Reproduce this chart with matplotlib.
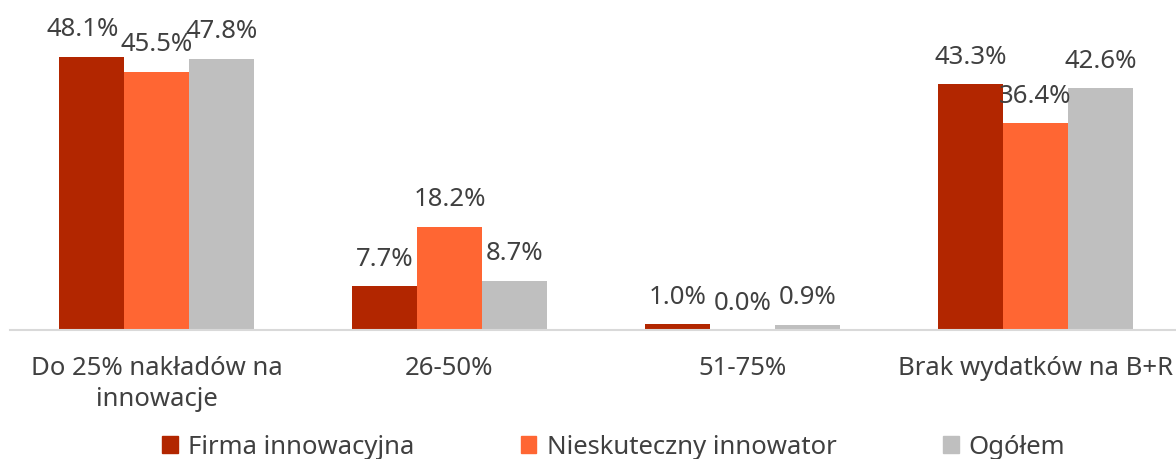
import matplotlib
matplotlib.use("Agg")
import matplotlib.pyplot as plt
import numpy as np
from matplotlib.patches import Patch

categories = ["Do 25% nakładów na\ninnowacje", "26-50%", "51-75%", "Brak wydatków na B+R"]
series_names = ["Firma innowacyjna", "Nieskuteczny innowator", "Ogółem"]
firma = [48.1, 7.7, 1.0, 43.3]
nieskuteczny = [45.5, 18.2, 0.0, 36.4]
ogolem = [47.8, 8.7, 0.9, 42.6]
colors = ["#B22600", "#FF6633", "#BFBFBF"]
text_color = "#404040"

plt.rcParams['font.family'] = ['Noto Sans', 'DejaVu Sans']

W, H = 1176, 459
fs = 18.5
fig = plt.figure(figsize=(W/100, H/100), dpi=100)
ax = fig.add_axes([10/W, 1 - 330/H, 1172/W, 330/H])

x = np.arange(len(categories))
bw = 0.222
series = [firma, nieskuteczny, ogolem]
for i, (vals, c) in enumerate(zip(series, colors)):
    pos = x + (i - 1) * bw
    ax.bar(pos, vals, width=bw, color=c, zorder=2)
    for j, (p, v) in enumerate(zip(pos, vals)):
        dx = -6 if (i == 0 and j == 0) else 0
        ax.annotate(f"{v:.1f}%", (p, v), xytext=(dx, 27 * 0.72), textcoords="offset points",
                    ha="center", va="center", fontsize=fs, color=text_color)

ax.set_xlim(-0.5, 3.5)
ax.set_ylim(0, 58.1)
for s in ["top", "right", "left"]:
    ax.spines[s].set_visible(False)
ax.spines["bottom"].set_color("#D9D9D9")
ax.spines["bottom"].set_linewidth(1.5)
ax.set_yticks([])
ax.set_xticks(x)
ax.set_xticklabels(categories, fontsize=fs, color=text_color, linespacing=1.28)
ax.tick_params(axis="x", length=0, pad=19)

handles = [Patch(color=c) for c in colors]
fig.legend(handles, series_names, loc="center", bbox_to_anchor=(0.522, 1 - 447/H), ncol=3,
           frameon=False, fontsize=fs, labelcolor=text_color, handlelength=0.6, handleheight=0.6,
           handletextpad=0.4, columnspacing=4.15, borderaxespad=0)

fig.savefig("out.png", dpi=100)
